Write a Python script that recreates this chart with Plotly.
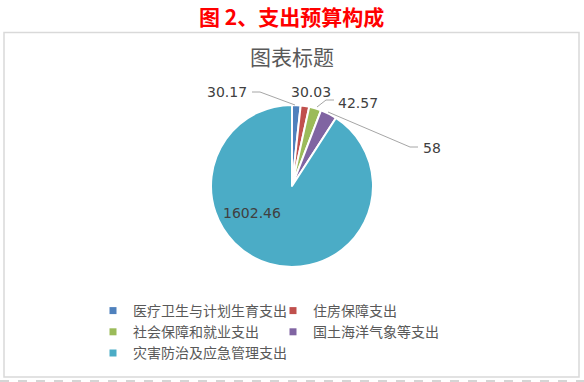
import plotly.graph_objects as go

# ---- data ----
categories = ["医疗卫生与计划生育支出", "住房保障支出", "社会保障和就业支出",
              "国土海洋气象等支出", "灾害防治及应急管理支出"]
values = [30.17, 30.03, 42.57, 58, 1602.46]
colors = ["#4F81BD", "#C0504D", "#9BBB59", "#8064A2", "#4BACC6"]
page_title = "图 2、支出预算构成"
chart_title = "图表标题"

# ---- layout helpers (pixel coordinates via hidden axes) ----
W, H = 584, 382
ML, MR = 60, 60
PW = W - ML - MR


def px_x(x):
    return (x - ML) / PW


def px_y(y):
    return 1 - y / H


# label positions (pixel centres) and leader lines
label_pos = [(227, 92), (311, 92), (358, 102.5), (432, 147.5), (252, 213)]
leader_paths = [
    "M252,92 L260,92 L295,105",
    None,
    "M334,100 L326,100 L317,107",
    "M328,112 L410,147 L418,147",
    None,
]

fig = go.Figure()

fig.add_trace(go.Pie(
    labels=categories,
    values=values,
    sort=False,
    direction="clockwise",
    rotation=0,
    marker=dict(colors=colors, line=dict(color="white", width=2)),
    textinfo="none",
    hoverinfo="label+value",
    showlegend=False,
    domain=dict(x=[px_x(211), px_x(373)], y=[px_y(267), px_y(105)]),
))

for name, col in zip(categories, colors):
    fig.add_trace(go.Scatter(
        x=[None], y=[None], mode="markers", name=name,
        marker=dict(symbol="square", size=7, color=col),
        showlegend=True,
    ))

annotations = [
    dict(x=291, y=15.5, xref="x", yref="y", text=f"<b>{page_title}</b>", showarrow=False,
         font=dict(family="Noto Sans CJK SC", size=21, color="#FF0000"),
         xanchor="center", yanchor="middle", borderpad=0),
    dict(x=292, y=56, xref="x", yref="y", text=chart_title, showarrow=False,
         font=dict(family="Noto Sans CJK SC", size=21, color="#595959"),
         xanchor="center", yanchor="middle"),
]
for v, (lx, ly) in zip(values, label_pos):
    annotations.append(dict(
        x=lx, y=ly, xref="x", yref="y", text=f"{v:g}", showarrow=False,
        font=dict(family="DejaVu Sans", size=14, color="#404040"),
        xanchor="center", yanchor="middle",
    ))

shapes = [
    dict(type="rect", xref="paper", yref="paper",
         x0=px_x(4), x1=px_x(579), y0=px_y(377), y1=px_y(32.5),
         line=dict(color="#D9D9D9", width=1.5), fillcolor="rgba(0,0,0,0)", layer="below"),
    dict(type="line", xref="paper", yref="paper",
         x0=px_x(0), x1=px_x(584), y0=px_y(381), y1=px_y(381),
         line=dict(color="#C8C8C8", width=1.5, dash="dash")),
]
for p in leader_paths:
    if p:
        shapes.append(dict(type="path", xref="x", yref="y", path=p,
                           line=dict(color="#A6A6A6", width=1)))

fig.update_layout(
    width=W, height=H,
    margin=dict(l=ML, r=MR, t=0, b=0, pad=0),
    paper_bgcolor="white", plot_bgcolor="rgba(0,0,0,0)",
    xaxis=dict(range=[ML, W - MR], visible=False, fixedrange=True),
    yaxis=dict(range=[H, 0], visible=False, fixedrange=True),
    showlegend=True,
    legend=dict(
        orientation="h", x=px_x(93), y=px_y(295), xanchor="left", yanchor="top",
        entrywidth=135, entrywidthmode="pixels",
        font=dict(family="Noto Sans CJK SC", size=14, color="#595959"),
        bgcolor="rgba(0,0,0,0)", traceorder="normal",
    ),
    annotations=annotations,
    shapes=shapes,
)

fig.write_html("out.html")
